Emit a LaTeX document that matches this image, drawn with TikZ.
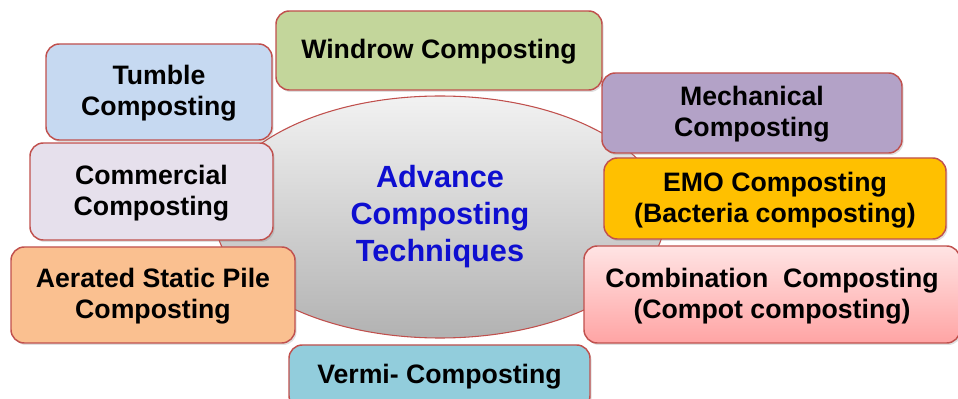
\documentclass[tikz,border=0pt]{standalone}
\usepackage{fontspec}
\setmainfont{Liberation Sans}
\usetikzlibrary{shapes.geometric,shadows}
\definecolor{edgered}{RGB}{192,80,77}
\definecolor{windrowgreen}{RGB}{195,214,155}
\definecolor{tumbleblue}{RGB}{198,217,241}
\definecolor{commlilac}{RGB}{230,224,236}
\definecolor{aeratedpeach}{RGB}{250,192,144}
\definecolor{vermiblue}{RGB}{146,205,220}
\definecolor{mechpurple}{RGB}{179,162,199}
\definecolor{emoorange}{RGB}{255,192,0}
\definecolor{titleblue}{RGB}{14,14,208}

\begin{document}
\begin{tikzpicture}[x=0.75pt,y=-0.75pt,
    techbox/.style={draw=edgered,line width=1.1pt,rounded corners=10pt,align=center,
      font=\fontsize{20}{23.3}\selectfont\bfseries,inner sep=0pt,text depth=2pt,
      drop shadow={shadow xshift=1.2pt,shadow yshift=-1.5pt,opacity=0.25}}]
			\useasboundingbox (0,0) rectangle (958,399);
			
			\node[ellipse,draw=edgered,line width=0.8pt,top color={rgb,255:red,242;green,242;blue,242},
			  bottom color={rgb,255:red,178;green,178;blue,178},minimum width=337.5pt,minimum height=181.5pt,
			  align=center,text=titleblue,font=\fontsize{23}{27.75}\selectfont\bfseries]
			  (hub) at (440,217) {Advance\\Composting\\Techniques};
			
			\node[techbox,fill=windrowgreen,minimum width=244.5pt,minimum height=59.25pt] (windrow) at (439,50.5) {Windrow Composting};
			\node[techbox,fill=tumbleblue,minimum width=169.5pt,minimum height=72pt] (tumble) at (159,92) {Tumble\\Composting};
			\node[techbox,fill=commlilac,minimum width=182.25pt,minimum height=72.75pt] (commercial) at (151.5,191.5) {Commercial\\Composting};
			\node[techbox,fill=aeratedpeach,minimum width=213pt,minimum height=72pt] (aerated) at (153,295) {Aerated Static Pile\\Composting};
			\node[techbox,fill=vermiblue,minimum width=225.75pt,minimum height=48pt,text depth=5pt] (vermi) at (439.5,377) {Vermi- Composting};
			\node[techbox,fill=mechpurple,minimum width=225pt,minimum height=60pt] (mechanical) at (752,113) {Mechanical\\Composting};
			\node[techbox,fill=emoorange,minimum width=256.5pt,minimum height=60.75pt] (emo) at (775,198.5) {EMO Composting\\(Bacteria composting)};
			\node[techbox,top color={rgb,255:red,255;green,228;blue,228},bottom color={rgb,255:red,255;green,164;blue,164},
			  minimum width=282pt,minimum height=72.75pt] (combination) at (772,294.5) {Combination\ \ Composting\\(Compot composting)};
		  \end{tikzpicture}
\end{document}
